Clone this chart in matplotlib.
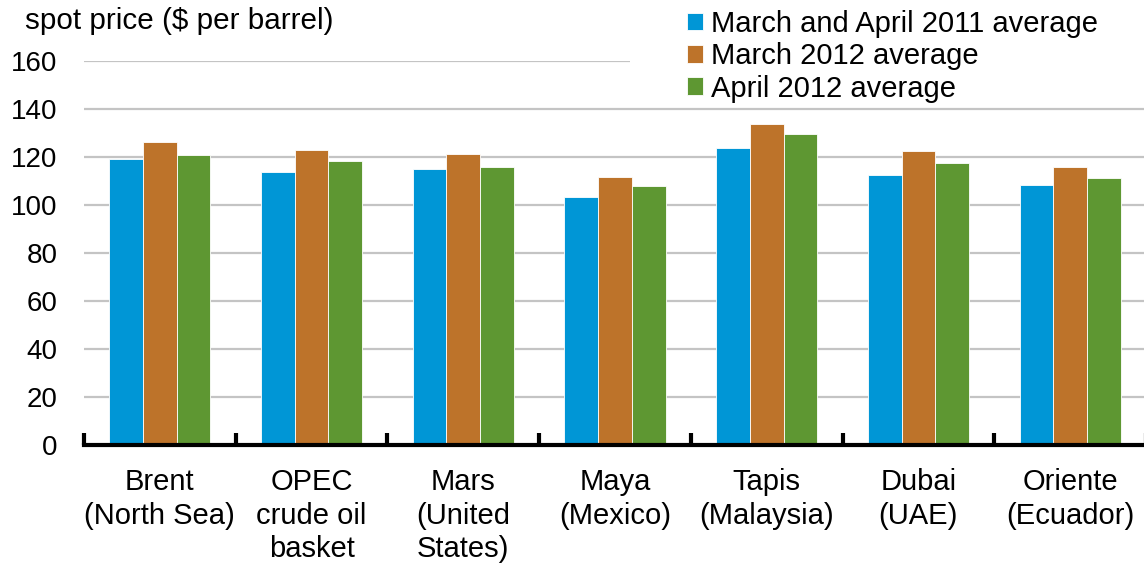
import numpy as np
import matplotlib.pyplot as plt
from matplotlib.patches import Rectangle

plt.rcParams['font.family'] = ['Liberation Sans', 'DejaVu Sans']

categories = ["Brent\n(North Sea)", "OPEC\ncrude oil\nbasket", "Mars\n(United\nStates)",
              "Maya\n(Mexico)", "Tapis\n(Malaysia)", "Dubai\n(UAE)", "Oriente\n(Ecuador)"]
avg_2011 = [119.0, 113.8, 115.0, 103.3, 123.6, 112.4, 108.5]
mar_2012 = [126.1, 122.8, 121.1, 111.7, 133.9, 122.6, 115.7]
apr_2012 = [120.8, 118.2, 115.7, 107.9, 129.4, 117.6, 111.1]
series_names = ["March and April 2011 average", "March 2012 average", "April 2012 average"]
colors = ["#0096D6", "#BD732A", "#5E9732"]
yticks = [0, 20, 40, 60, 80, 100, 120, 140, 160]

fig = plt.figure(figsize=(11.44, 5.64), dpi=100)
ax = fig.add_axes([84/1144, 1-445/564, 1062/1144, 384/564])

x = np.arange(len(categories))
w = 0.222
for i, (vals, name, c) in enumerate(zip([avg_2011, mar_2012, apr_2012], series_names, colors)):
    ax.bar(x + (i - 1) * w, vals, width=w, color=c, label=name, zorder=3,
           edgecolor="white", linewidth=0.6)

ax.set_xlim(-0.5, len(categories) - 0.5)
ax.set_ylim(0, 160)
ax.set_yticks(yticks)
ax.yaxis.grid(True, color="#c4c4c4", linewidth=1.6, zorder=0)
ax.set_axisbelow(True)
for s in ["top", "right", "left"]:
    ax.spines[s].set_visible(False)
ax.spines["bottom"].set_linewidth(3)
ax.spines["bottom"].set_zorder(5)
ax.tick_params(axis="y", length=0, labelsize=20, pad=19)

# category labels centered under groups, ticks between groups
ax.set_xticks(np.arange(len(categories) + 1) - 0.5)
ax.set_xticklabels([])
ax.tick_params(axis="x", direction="in", length=9, width=3, color="black")
for xi, lab in zip(x, categories):
    ax.text(xi, -0.06, lab, transform=ax.get_xaxis_transform(), ha="center", va="top",
            fontsize=21, linespacing=1.25)

# white area behind legend hides the top gridline
ax.add_patch(Rectangle((630/1144, 1-100/564), 1, 1, transform=fig.transFigure,
                       facecolor="white", edgecolor="none", zorder=1))

fig.text(25/1144, 1-21/564, "spot price ($ per barrel)", fontsize=21.3, va="center", ha="left")

leg = fig.legend(loc="upper left", bbox_to_anchor=(664/1144, 1.024), frameon=False,
                 fontsize=21, handlelength=0.55, handleheight=0.55, handletextpad=0.25,
                 labelspacing=0.15, borderpad=0.3)

fig.savefig("out.png", dpi=100)
